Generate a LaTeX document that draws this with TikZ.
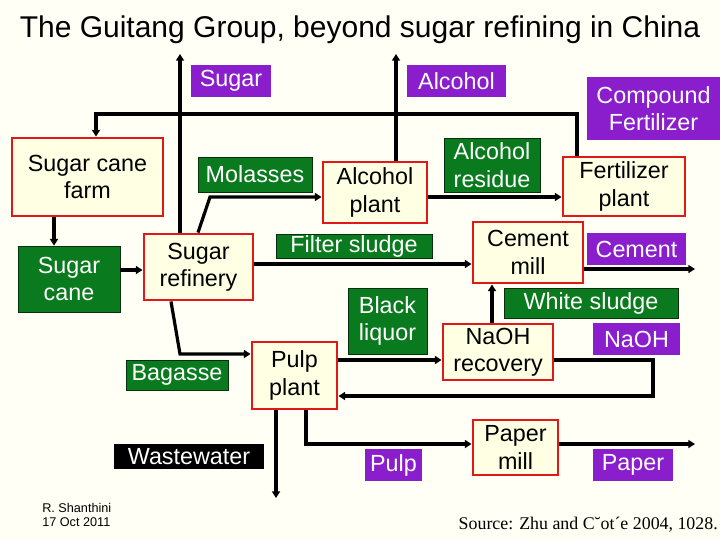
\documentclass[tikz,border=0pt]{standalone}
\usepackage{fontspec}
\setmainfont{Liberation Sans}
\newfontfamily\timesf{Liberation Serif}
\usetikzlibrary{arrows.meta}
\definecolor{bg}{HTML}{FFFFF6}
\definecolor{cream}{HTML}{FFFFE4}
\definecolor{boxred}{HTML}{E01818}
\definecolor{grn}{HTML}{0A7A1E}
\definecolor{purp}{HTML}{8A1ECC}
\begin{document}
\begin{tikzpicture}[x=0.75pt,y=-0.75pt,
  every node/.style={font=\fontsize{17.5}{20.5}\selectfont,align=center,inner sep=0pt},
  proc/.style={draw=boxred,line width=2.2pt,fill=cream,text=black},
  grnlab/.style={fill=grn,draw=black!60!grn,line width=0.6pt,text=white},
  purlab/.style={fill=purp,text=white},
  blklab/.style={fill=black,text=white},
  arr/.style={line width=2.4pt,-{Triangle[length=5pt,width=6pt]}},
  ln/.style={line width=2.4pt}]
\fill[bg] (0,0) rectangle (720,540);
\useasboundingbox (0,0) rectangle (720,540);
\newcommand\bx[6]{\node[#1,minimum width={(#4-#2)*0.75pt},minimum height={(#5-#3)*0.75pt}] (#6) at ({(#2+#4)/2},{(#3+#5)/2})}
\node[font=\fontsize{22.5}{24}\selectfont] (title) at (360,30) {The Guitang Group, beyond sugar refining in China};
% process boxes
\bx{proc}{12}{138}{163}{216}{farm} {Sugar cane\\farm};
\bx{proc}{144}{234}{253}{300}{refinery} {Sugar\\refinery};
\bx{proc}{252}{342}{337}{409}{pulpplant} {Pulp\\plant};
\bx{proc}{323}{162}{427}{223}{alcplant} {Alcohol\\plant};
\bx{proc}{563}{157}{685}{216}{fertplant} {Fertilizer\\plant};
\bx{proc}{473}{222}{583}{283}{cement} {Cement\\mill};
\bx{proc}{443}{324}{553}{380}{naoh} {NaOH\\recovery};
\bx{proc}{473}{420}{558}{475}{paper} {Paper\\mill};
% labels
\bx{grnlab}{18}{246}{120}{312}{cane} {Sugar\\cane};
\bx{grnlab}{198}{157}{312}{192}{molasses} {Molasses};
\bx{grnlab}{126}{360}{228}{390}{bagasse} {Bagasse};
\bx{grnlab}{444}{138}{540}{192}{residue} {Alcohol\\residue};
\bx{grnlab}{276}{234}{432}{258}{filter} {Filter sludge};
\bx{grnlab}{348}{288}{427}{354}{black} {Black\\liquor};
\bx{grnlab}{504}{288}{678}{318}{white} {White sludge};
\bx{blklab}{114}{444}{264}{469}{waste} {Wastewater};
\bx{purlab}{191}{65}{271}{97}{sugar} {Sugar};
\bx{purlab}{407}{65}{506}{97}{alcohol} {Alcohol};
\bx{purlab}{587}{77}{720}{140}{compound} {Compound\\Fertilizer};
\bx{purlab}{587}{233}{686}{265}{cementl} {Cement};
\bx{purlab}{593}{323}{680}{355}{naohl} {NaOH};
\bx{purlab}{365}{449}{422}{481}{pulpl} {Pulp};
\bx{purlab}{593}{449}{673}{481}{paperl} {Paper};
% free ends
\coordinate (sugarend) at (180,54);
\coordinate (alcend) at (396,54);
\coordinate (cemend) at (695,269);
\coordinate (papend) at (695,444);
\coordinate (wasteend) at (276,498);
% connectors
\draw[arr] (refinery.north -| sugarend) -- (sugarend);
\draw[arr] (alcplant.north -| alcend) -- (alcend);
\draw[arr] (fertplant.north -| 577,0) |- (96,114) -- (farm.north -| 96,0);
\draw[arr] (farm.south -| 54,0) -- (cane.north -| 54,0);
\draw[arr] (cane.east |- 0,270) -- (refinery.west |- 0,270);
\draw[arr] (refinery.north -| 198,0) -- (210,197) -- (alcplant.west |- 0,197);
\draw[arr] (alcplant.east |- 0,197) -- (fertplant.west |- 0,197);
\draw[arr] (refinery.east |- 0,264) -- (cement.west |- 0,264);
\draw[arr] (cement.east |- cemend) -- (cemend);
\draw[arr] (naoh.north -| 492,0) -- (cement.south -| 492,0);
\draw[arr] (refinery.south -| 171,0) -- (180,354) -- (pulpplant.west |- 0,354);
\draw[arr] (pulpplant.east |- 0,360) -- (naoh.west |- 0,360);
\draw[arr] (naoh.east |- 0,360) -- (653,360) -- (653,396) -- (pulpplant.east |- 0,396);
\draw[arr] (pulpplant.south -| wasteend) -- (wasteend);
\draw[arr] (pulpplant.south -| 306,0) |- (paper.west |- 0,444);
\draw[arr] (paper.east |- papend) -- (papend);
% footers
\node[font=\fontsize{9.5}{11}\selectfont,align=left,anchor=west] (author) at (42,515) {R. Shanthini\\17 Oct 2011};
\node[font=\timesf\fontsize{13.4}{15}\selectfont,anchor=east] (source) at (718,525) {Source: Zhu and C˘ot´e 2004, 1028.};
\end{tikzpicture}
\end{document}
